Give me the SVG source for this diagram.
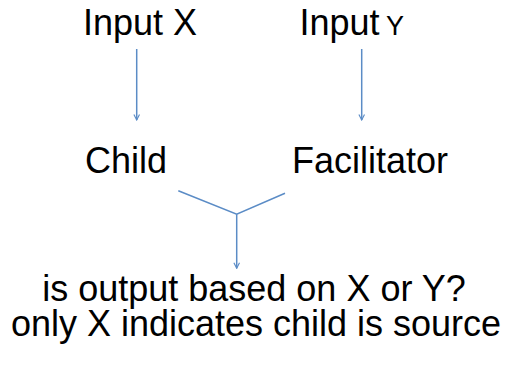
<svg xmlns="http://www.w3.org/2000/svg" width="510" height="367" viewBox="0 0 510 367">
  <defs>
    <marker id="head" viewBox="0 0 10 10" refX="9" refY="5" markerWidth="7" markerHeight="7" markerUnits="userSpaceOnUse" orient="auto">
      <path d="M1,1 L9,5 L1,9" fill="none" stroke="#5b8cc6" stroke-width="1.6"/>
    </marker>
  </defs>
  <style>
    .lbl { font-family: "Liberation Sans", Arial, sans-serif; font-size: 36px; fill: #000; }
    .small { font-size: 27px; }
    .wire { fill: none; stroke: #5b8cc6; stroke-width: 1.5; }
  </style>
  <rect width="510" height="367" fill="#fff"/>

  <g id="input-x"><text class="lbl" x="83" y="35">Input X</text></g>
  <g id="input-y"><text class="lbl" x="299.5" y="35">Input<tspan class="small" x="386">Y</tspan></text></g>
  <g id="child"><text class="lbl" x="85" y="173">Child</text></g>
  <g id="facilitator"><text class="lbl" x="292" y="173">Facilitator</text></g>
  <g id="question">
    <text class="lbl" x="254" y="300.5" text-anchor="middle">is output based on X or Y?</text>
    <text class="lbl" x="256" y="336" text-anchor="middle">only X indicates child is source</text>
  </g>

  <g id="connectors">
    <line class="wire" x1="136.7" y1="49" x2="136.7" y2="120" marker-end="url(#head)"/>
    <line class="wire" x1="361.7" y1="49" x2="361.7" y2="120" marker-end="url(#head)"/>
    <polyline class="wire" points="178.3,190.7 236.7,214.3 285,193.3"/>
    <line class="wire" x1="236.7" y1="214.3" x2="236.7" y2="268.3" marker-end="url(#head)"/>
  </g>
</svg>
